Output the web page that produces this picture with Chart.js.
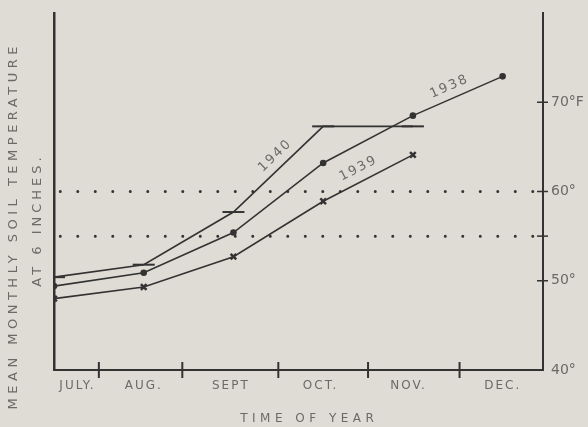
<!DOCTYPE html>
<html>
<head>
<meta charset="utf-8">
<script src="https://cdn.jsdelivr.net/npm/chart.js@4"></script>
<style>
  html, body { margin: 0; padding: 0; background: #dfdcd5; }
  #wrap { width: 588px; height: 427px; }
</style>
</head>
<body>
<div id="wrap"><canvas id="soilChart" width="588" height="427"></canvas></div>
<script>
// month names sit between the break marks on the time axis
var months = ["JULY.", "AUG.", "SEPT", "OCT.", "NOV.", "DEC."];
var monthLabelPos = [0.25, 0.99, 1.96, 2.96, 3.94, 4.99];
var monthBreaks = [0.5, 1.43, 2.5, 3.5, 4.52];

// mean monthly soil temperature (deg F), July = 0
var temp1938 = [49.4, 50.9, 55.4, 63.2, 68.5, 72.9];
var temp1939 = [48.0, 49.3, 52.7, 58.9, 64.1];
var temp1940 = [50.4, 51.8, 57.7, 67.3, 67.3];

var dottedLevels = [60, 55];
var rightTicks = [40, 50, 55, 60, 70];
var rightTickLabels = ["40°", "50°", "", "60°", "70°F"];

var ink = "#333333";
var textGrey = "#6b6a66";
var font = "DejaVu Sans";

function toXY(arr) {
  return arr.map(function (v, i) { return { x: i, y: v }; });
}

var datasets = [];
dottedLevels.forEach(function (lvl) {
  datasets.push({
    data: [{ x: 0.07, y: lvl }, { x: 5.4, y: lvl }],
    borderColor: ink,
    borderWidth: 3,
    borderDash: [0, 17.5],
    borderCapStyle: "round",
    pointRadius: 0
  });
});
datasets.push({
  label: "1938",
  data: toXY(temp1938),
  borderColor: ink, backgroundColor: ink,
  borderWidth: 1.6,
  pointStyle: "circle", pointRadius: 2.5
});
datasets.push({
  label: "1939",
  data: toXY(temp1939),
  borderColor: ink, backgroundColor: ink,
  borderWidth: 1.6,
  pointStyle: "crossRot", pointRadius: 4, pointBorderWidth: 2.5
});
datasets.push({
  label: "1940",
  data: toXY(temp1940),
  borderColor: ink, backgroundColor: ink,
  borderWidth: 1.6,
  pointStyle: "line", pointRadius: 11, pointBorderWidth: 2
});

// year labels along a chosen segment of each curve
var seriesLabels = [
  { ds: 2, seg: 4, t: 0.45, off: 12, text: "1938" },
  { ds: 3, seg: 3, t: 0.45, off: 13, text: "1939" },
  { ds: 4, seg: 2, t: 0.55, off: 12, text: "1940" }
];

function spacedText(ctx, text, x, y, spacing) {
  ctx.letterSpacing = spacing + "px";
  ctx.fillText(text, x + spacing / 2, y);
}

var extras = {
  id: "extras",
  afterDraw: function (chart) {
    var ctx = chart.ctx;
    var xs = chart.scales.x, ys = chart.scales.y2;
    var area = chart.chartArea;
    ctx.save();
    ctx.strokeStyle = ink;
    ctx.lineWidth = 2;
    // break marks crossing the time axis
    monthBreaks.forEach(function (b) {
      var px = xs.getPixelForValue(b);
      ctx.beginPath();
      ctx.moveTo(px, area.bottom - 8);
      ctx.lineTo(px, area.bottom + 8);
      ctx.stroke();
    });
    // tick marks crossing the right axis
    ctx.lineWidth = 1.5;
    rightTicks.forEach(function (v) {
      if (v === 40) return;
      var py = ys.getPixelForValue(v);
      ctx.beginPath();
      ctx.moveTo(area.right - 6, py);
      ctx.lineTo(area.right + 5, py);
      ctx.stroke();
    });
    ctx.fillStyle = textGrey;
    ctx.textAlign = "center";
    ctx.textBaseline = "middle";
    // month names
    ctx.font = "12px '" + font + "'";
    monthLabelPos.forEach(function (p, i) {
      spacedText(ctx, months[i], xs.getPixelForValue(p), area.bottom + 16, 2);
    });
    // axis titles
    spacedText(ctx, "TIME OF YEAR", xs.getPixelForValue(2.82), 419, 4.5);
    ctx.font = "13px '" + font + "'";
    ctx.save();
    ctx.translate(14, 228);
    ctx.rotate(-Math.PI / 2);
    spacedText(ctx, "MEAN MONTHLY SOIL TEMPERATURE", 0, 0, 4.5);
    ctx.restore();
    ctx.save();
    ctx.translate(38, 222);
    ctx.rotate(-Math.PI / 2);
    spacedText(ctx, "AT 6 INCHES.", 0, 0, 4);
    ctx.restore();
    // series year labels
    ctx.font = "13px '" + font + "'";
    seriesLabels.forEach(function (l) {
      var pts = chart.getDatasetMeta(l.ds).data;
      var a = pts[l.seg], b = pts[l.seg + 1];
      var ang = Math.atan2(b.y - a.y, b.x - a.x);
      var mx = a.x + (b.x - a.x) * l.t, my = a.y + (b.y - a.y) * l.t;
      var nx = Math.sin(ang) * l.off, ny = -Math.cos(ang) * l.off;
      ctx.save();
      ctx.translate(mx + nx, my + ny);
      ctx.rotate(ang);
      spacedText(ctx, l.text, 0, 0, 2);
      ctx.restore();
    });
    ctx.restore();
  }
};

var ctx = document.getElementById("soilChart");
var soilChart = new Chart(ctx, {
  type: "line",
  data: { datasets: datasets },
  options: {
    responsive: false,
    animation: false,
    layout: { padding: { top: 10, left: 0, right: 0, bottom: 0 } },
    plugins: { legend: { display: false }, tooltip: { enabled: false } },
    scales: {
      x: {
        type: "linear",
        min: 0, max: 5.45,
        grid: { display: false },
        ticks: { display: false },
        border: { color: ink, width: 2 },
        afterFit: function (s) { s.height = 57; }
      },
      y: {
        position: "left",
        min: 40, max: 80,
        grid: { display: false },
        ticks: { display: false },
        border: { color: ink, width: 2.5 },
        afterFit: function (s) { s.width = 54; }
      },
      y2: {
        position: "right",
        min: 40, max: 80,
        grid: { display: false },
        border: { color: ink, width: 2 },
        afterBuildTicks: function (s) {
          s.ticks = rightTicks.map(function (v) { return { value: v }; });
        },
        ticks: {
          padding: 0,
          color: textGrey,
          font: { family: font, size: 14 },
          callback: function (v) { return rightTickLabels[rightTicks.indexOf(v)]; }
        },
        afterFit: function (s) { s.width = 45; }
      }
    }
  },
  plugins: [extras]
});
</script>
</body>
</html>
